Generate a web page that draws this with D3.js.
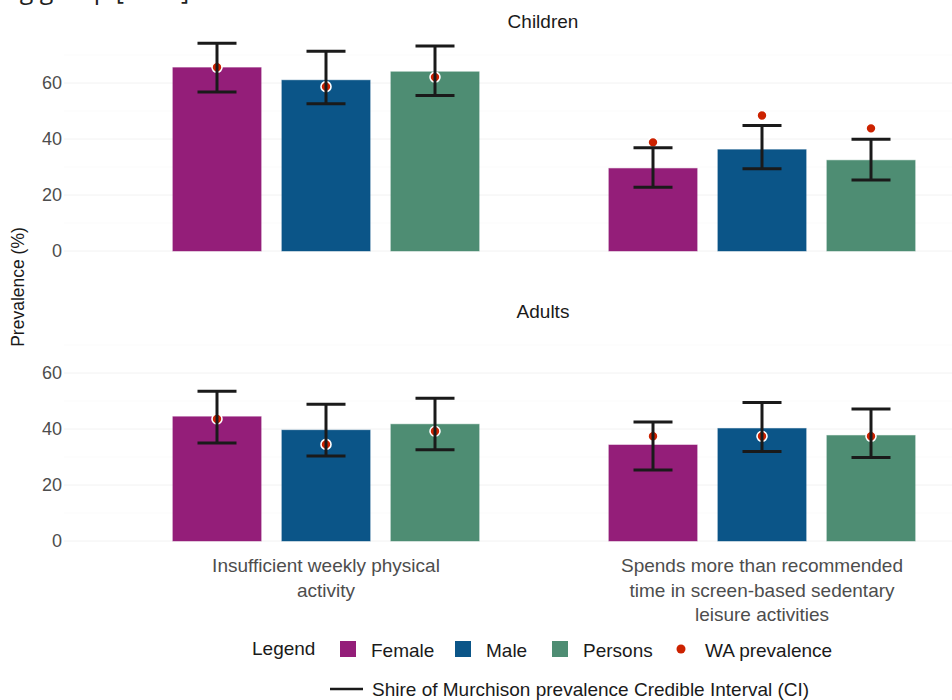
<!DOCTYPE html>
<html>
<head>
<meta charset="utf-8">
<script src="https://cdn.jsdelivr.net/npm/d3@7"></script>
<style>
  body { margin: 0; background: #fff; }
  svg { display: block; font-family: "Liberation Sans", Arial, sans-serif; }
</style>
</head>
<body>
<script>
// chart values
const categories = ["Insufficient weekly physical activity",
  "Spends more than recommended time in screen-based sedentary leisure activities"];
const categoryLines = [["Insufficient weekly physical", "activity"],
  ["Spends more than recommended", "time in screen-based sedentary", "leisure activities"]];
const groups = ["Female", "Male", "Persons"];
const panels = ["Children", "Adults"];
const yTicks = [0, 20, 40, 60];

// order: category 1 (Female, Male, Persons), category 2 (Female, Male, Persons)
const childrenPrev = [65.5, 61.0, 64.0, 29.5, 36.2, 32.4];
const childrenLow  = [56.8, 52.6, 55.5, 22.8, 29.4, 25.4];
const childrenHigh = [74.2, 71.3, 73.2, 36.9, 44.8, 39.9];
const childrenWA   = [65.6, 58.7, 62.1, 38.8, 48.4, 43.8];

const adultsPrev = [44.4, 39.6, 41.7, 34.3, 40.2, 37.7];
const adultsLow  = [35.0, 30.4, 32.6, 25.4, 32.0, 29.8];
const adultsHigh = [53.5, 48.8, 51.0, 42.5, 49.5, 47.1];
const adultsWA   = [43.6, 34.5, 39.2, 37.4, 37.4, 37.4];

const colours = ["#941e79", "#0b5588", "#4e8d73"];
const waColour = "#cc2200";

const width = 952, height = 700;
const svg = d3.select("body").append("svg")
  .attr("width", width).attr("height", height);

// title line above, cut off by the picture edge (only descenders show)
svg.append("text")
  .attr("x", -2).attr("y", -1)
  .style("font-family", "'Open Sans', sans-serif")
  .style("font-size", "25px")
  .attr("fill", "#222")
  .text("ing group [2023]");

const panelLeft = 64, panelRight = 1022;

const x = d3.scalePoint().domain(categories).range([326, 762]);
const xg = d3.scaleBand().domain(groups)
  .range([-163.5, 163.5]).paddingInner(0.19).paddingOuter(0.095);

function makeRows(prev, low, high, wa) {
  return prev.map((v, i) => ({
    cat: categories[Math.floor(i / 3)],
    group: groups[i % 3],
    value: v, low: low[i], high: high[i], wa: wa[i]
  }));
}
const panelData = [
  { name: panels[0], zero: 251, rows: makeRows(childrenPrev, childrenLow, childrenHigh, childrenWA) },
  { name: panels[1], zero: 541, rows: makeRows(adultsPrev, adultsLow, adultsHigh, adultsWA) }
];

panelData.forEach(p => {
  const y = d3.scaleLinear().domain([-3.7, 77.7])
    .range([p.zero + 3.7 * 2.8, p.zero - 77.7 * 2.8]);
  const g = svg.append("g");

  // strip title
  g.append("text")
    .attr("x", (panelLeft + panelRight) / 2)
    .attr("y", y(77.7) - 5)
    .attr("text-anchor", "middle")
    .style("font-size", "19px")
    .attr("fill", "#1a1a1a")
    .text(p.name);

  // grid
  g.selectAll(".minor").data([10, 30, 50, 70]).enter().append("line")
    .attr("x1", panelLeft).attr("x2", panelRight)
    .attr("y1", d => y(d)).attr("y2", d => y(d))
    .attr("stroke", "#f9f9f9").attr("stroke-width", 0.6);
  g.selectAll(".major").data(yTicks).enter().append("line")
    .attr("x1", panelLeft).attr("x2", panelRight)
    .attr("y1", d => y(d)).attr("y2", d => y(d))
    .attr("stroke", "#f2f2f2").attr("stroke-width", 1);

  // y axis
  const ax = g.append("g")
    .attr("transform", "translate(" + panelLeft + ",0)")
    .call(d3.axisLeft(y).tickValues(yTicks).tickSize(0).tickPadding(2));
  ax.select(".domain").remove();
  ax.selectAll("text")
    .style("font-size", "18px")
    .style("font-family", "'Liberation Sans', Arial, sans-serif")
    .attr("fill", "#4d4d4d");

  // bars
  g.selectAll(".bar").data(p.rows).enter().append("rect")
    .attr("x", d => x(d.cat) + xg(d.group))
    .attr("width", xg.bandwidth())
    .attr("y", d => y(d.value))
    .attr("height", d => y(0) - y(d.value))
    .attr("fill", d => colours[groups.indexOf(d.group)])
    .attr("stroke", d => colours[groups.indexOf(d.group)])
    .attr("stroke-opacity", 0.45)
    .attr("stroke-width", 1);

  // WA prevalence points
  g.selectAll(".wa").data(p.rows).enter().append("circle")
    .attr("cx", d => x(d.cat) + xg(d.group) + xg.bandwidth() / 2)
    .attr("cy", d => y(d.wa))
    .attr("r", 5)
    .attr("fill", waColour)
    .attr("stroke", "#fff")
    .attr("stroke-width", 1.6);

  // credible intervals
  const cap = 19.5;
  const eb = g.selectAll(".eb").data(p.rows).enter().append("g")
    .attr("stroke", "#1a1a1a").attr("stroke-width", 3);
  eb.append("line")
    .attr("x1", d => x(d.cat) + xg(d.group) + xg.bandwidth() / 2)
    .attr("x2", d => x(d.cat) + xg(d.group) + xg.bandwidth() / 2)
    .attr("y1", d => y(d.low)).attr("y2", d => y(d.high));
  eb.append("line")
    .attr("x1", d => x(d.cat) + xg(d.group) + xg.bandwidth() / 2 - cap)
    .attr("x2", d => x(d.cat) + xg(d.group) + xg.bandwidth() / 2 + cap)
    .attr("y1", d => y(d.high)).attr("y2", d => y(d.high));
  eb.append("line")
    .attr("x1", d => x(d.cat) + xg(d.group) + xg.bandwidth() / 2 - cap)
    .attr("x2", d => x(d.cat) + xg(d.group) + xg.bandwidth() / 2 + cap)
    .attr("y1", d => y(d.low)).attr("y2", d => y(d.low));
});

// x category labels (bottom panel only)
const xl = svg.selectAll(".xlab").data(categories).enter().append("text")
  .attr("text-anchor", "middle")
  .style("font-size", "19px")
  .attr("fill", "#4d4d4d");
xl.each(function(d, i) {
  d3.select(this).selectAll("tspan").data(categoryLines[i]).enter().append("tspan")
    .attr("x", x(d))
    .attr("y", (t, j) => 572 + j * 24.5)
    .text(t => t);
});

// y axis title
svg.append("text")
  .attr("transform", "translate(24,287) rotate(-90)")
  .attr("text-anchor", "middle")
  .style("font-size", "17.5px")
  .attr("fill", "#1a1a1a")
  .text("Prevalence (%)");

// legend
const leg = svg.append("g").style("font-size", "19px").attr("fill", "#1a1a1a");
leg.append("text").attr("x", 252).attr("y", 655).text("Legend");
const keyX = [340, 455, 552];
const keys = leg.selectAll(".key").data(groups).enter().append("g")
  .attr("transform", (d, i) => "translate(" + keyX[i] + ",641)");
keys.append("rect").attr("width", 16).attr("height", 16)
  .attr("fill", (d, i) => colours[i]);
keys.append("text").attr("x", 31).attr("y", 16).text(d => d);
leg.append("circle").attr("cx", 681).attr("cy", 649).attr("r", 4.5).attr("fill", waColour);
leg.append("text").attr("x", 705).attr("y", 657).text("WA prevalence");
leg.append("line").attr("x1", 330).attr("x2", 363).attr("y1", 689).attr("y2", 689)
  .attr("stroke", "#1a1a1a").attr("stroke-width", 2.5);
leg.append("text").attr("x", 372).attr("y", 696)
  .text("Shire of Murchison prevalence Credible Interval (CI)");
</script>
</body>
</html>
